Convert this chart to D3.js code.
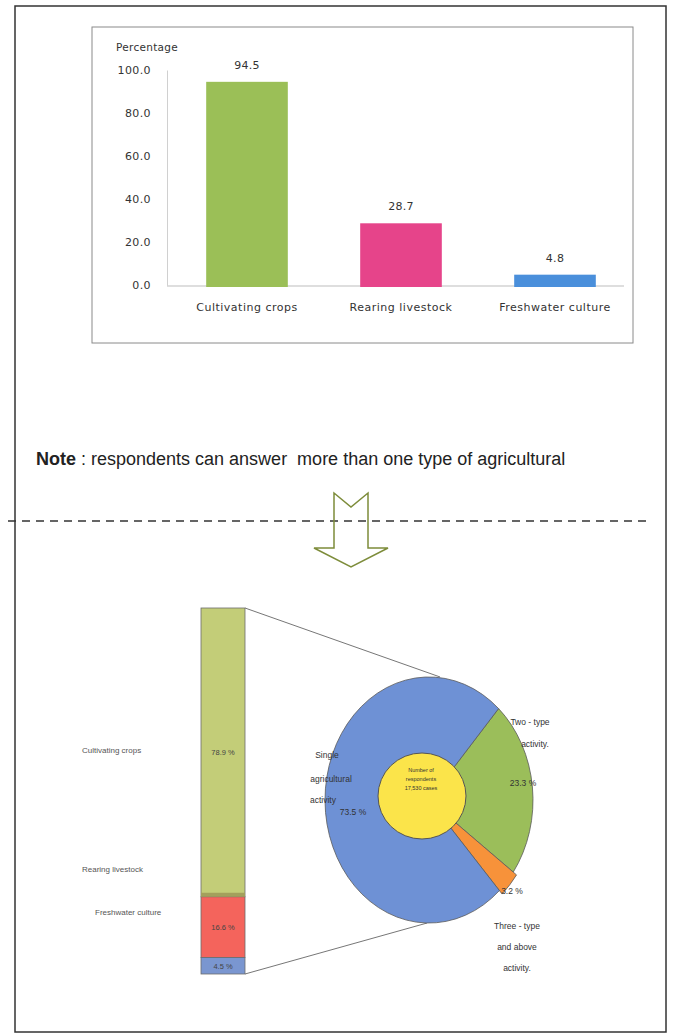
<!DOCTYPE html>
<html>
<head>
<meta charset="utf-8">
<script src="https://cdn.jsdelivr.net/npm/d3@7"></script>
<style>
  body { margin: 0; background: #fff; }
  svg { display: block; }
</style>
</head>
<body>
<div id="chart"></div>
<script>
// top bar chart
const barCategories = ["Cultivating crops", "Rearing livestock", "Freshwater culture"];
const barValues = [94.5, 28.7, 4.8];
const barColors = ["#9bbf57", "#e6448a", "#4a8fdb"];
const yTicks = [0, 20, 40, 60, 80, 100];

// stacked bar (single agricultural activity)
const stackCategories = ["Cultivating crops", "Rearing livestock", "Freshwater culture"];
const stackValues = [78.9, 16.6, 4.5];
const stackColors = ["#c3cd78", "#f4645c", "#7a96d0"];

// pie (number of activity types)
const pieCategories = ["Two - type activity.", "Three - type and above activity.", "Single agricultural activity"];
const pieValues = [23.3, 3.2, 73.5];
const pieColors = ["#9bbe5a", "#f7923a", "#6e91d5"];
const centerLines = ["Number of", "respondents", "17,530 cases"];

const width = 675, height = 1036;
const fmt = d3.format(".1f");

const svg = d3.select("#chart").append("svg")
  .attr("width", width)
  .attr("height", height)
  .style("background", "#fff");

// outer frame
svg.append("rect")
  .attr("x", 15).attr("y", 6)
  .attr("width", 651).attr("height", 1026)
  .attr("fill", "none")
  .attr("stroke", "#333")
  .attr("stroke-width", 1.5);

// ---------- top bar chart ----------
svg.append("rect")
  .attr("x", 92).attr("y", 27)
  .attr("width", 541).attr("height", 316)
  .attr("fill", "#fff")
  .attr("stroke", "#8a8a8a");

const yScale = d3.scaleLinear().domain([0, 100]).range([285, 70]);
const xScale = d3.scaleBand()
  .domain(barCategories)
  .range([170, 632])
  .paddingInner(0.47)
  .paddingOuter(0.235);

const axisFont = "'DejaVu Sans', Verdana, sans-serif";

svg.append("g")
  .attr("transform", "translate(167,0)")
  .call(d3.axisLeft(yScale).tickValues(yTicks).tickSize(0).tickPadding(16).tickFormat(fmt))
  .call(g => g.select(".domain").attr("stroke", "#d0d0d0"))
  .call(g => g.selectAll("text")
    .attr("fill", "#333")
    .style("font-family", axisFont)
    .style("font-size", "11px")
    .style("letter-spacing", "0.4px"));

svg.append("line")
  .attr("x1", 167).attr("x2", xScale.range()[1] - 8)
  .attr("y1", yScale(0) + 1).attr("y2", yScale(0) + 1)
  .attr("stroke", "#bdbdbd");

svg.append("text")
  .attr("x", 116).attr("y", 51)
  .attr("fill", "#333")
  .style("font-family", axisFont)
  .style("font-size", "10.5px")
  .style("letter-spacing", "0.3px")
  .text("Percentage");

const bars = barCategories.map((c, i) => ({ cat: c, value: barValues[i], color: barColors[i] }));

svg.selectAll(".bar")
  .data(bars)
  .join("rect")
  .attr("class", "bar")
  .attr("x", d => xScale(d.cat))
  .attr("y", d => yScale(d.value))
  .attr("width", xScale.bandwidth())
  .attr("height", d => yScale(0) - yScale(d.value) + 2)
  .attr("fill", d => d.color);

svg.selectAll(".bar-label")
  .data(bars)
  .join("text")
  .attr("class", "bar-label")
  .attr("x", d => xScale(d.cat) + xScale.bandwidth() / 2)
  .attr("y", d => yScale(d.value) - 13)
  .attr("text-anchor", "middle")
  .attr("fill", "#333")
  .style("font-family", axisFont)
  .style("font-size", "11px")
  .style("letter-spacing", "0.3px")
  .text(d => fmt(d.value));

svg.selectAll(".cat-label")
  .data(bars)
  .join("text")
  .attr("class", "cat-label")
  .attr("x", d => xScale(d.cat) + xScale.bandwidth() / 2)
  .attr("y", 311)
  .attr("text-anchor", "middle")
  .attr("fill", "#333")
  .style("font-family", axisFont)
  .style("font-size", "11px")
  .style("letter-spacing", "0.5px")
  .text(d => d.cat);

// ---------- note, divider, arrow ----------
const note = svg.append("text")
  .attr("x", 36).attr("y", 465)
  .attr("fill", "#222")
  .style("white-space", "pre")
  .style("font-family", "'Liberation Sans', Arial, sans-serif")
  .style("font-size", "18px");
note.append("tspan").style("font-weight", "700").text("Note");
note.append("tspan").text(" : respondents can answer  more than one type of agricultural");

svg.append("line")
  .attr("x1", 8).attr("x2", 648)
  .attr("y1", 521).attr("y2", 521)
  .attr("stroke", "#333")
  .attr("stroke-width", 1.6)
  .attr("stroke-dasharray", "8,6");

const arrowPts = [
  [334, 493], [351, 507], [368, 493], [368, 548], [388, 548],
  [351, 567], [314, 548], [334, 548]
];
svg.append("path")
  .attr("d", d3.line()(arrowPts) + "Z")
  .attr("fill", "none")
  .attr("stroke", "#7d8c3a")
  .attr("stroke-width", 1.5);

// ---------- stacked bar ----------
const smallFont = "'Liberation Sans', Arial, sans-serif";
const sScale = d3.scaleLinear().domain([0, 100]).range([608, 974]);
const stackX = 201, stackW = 44;
let acc = 0;
const stack = stackCategories.map((c, i) => {
  const d = { cat: c, value: stackValues[i], color: stackColors[i], y0: acc, y1: acc + stackValues[i] };
  acc += stackValues[i];
  return d;
});

svg.selectAll(".seg")
  .data(stack)
  .join("rect")
  .attr("class", "seg")
  .attr("x", stackX)
  .attr("y", d => sScale(d.y0))
  .attr("width", stackW)
  .attr("height", d => sScale(d.y1) - sScale(d.y0))
  .attr("fill", d => d.color)
  .attr("stroke", "#6b6b6b")
  .attr("stroke-width", 0.8);

// thin olive band at the bottom of the first segment
svg.append("rect")
  .attr("x", stackX).attr("y", sScale(stack[0].y1) - 4)
  .attr("width", stackW).attr("height", 4)
  .attr("fill", "#a3a05c");

svg.selectAll(".seg-label")
  .data(stack)
  .join("text")
  .attr("class", "seg-label")
  .attr("x", stackX + stackW / 2)
  .attr("y", d => (sScale(d.y0) + sScale(d.y1)) / 2 + 3)
  .attr("text-anchor", "middle")
  .attr("fill", "#444")
  .style("font-family", smallFont)
  .style("font-size", "7.5px")
  .text(d => fmt(d.value) + " %");

// side labels sit a bit above their segments, as in the source
const leftLabelDy = [1, -55, -51];
svg.selectAll(".seg-name")
  .data(stack)
  .join("text")
  .attr("class", "seg-name")
  .attr("x", (d, i) => i === 2 ? 95 : 82)
  .attr("y", (d, i) => (sScale(d.y0) + sScale(d.y1)) / 2 + leftLabelDy[i])
  .attr("fill", "#555")
  .style("font-family", smallFont)
  .style("font-size", "8px")
  .text(d => d.cat);

// ---------- pie ----------
const cx = 429, cy = 800, rOuter = 104, yStretch = 1.183;

// connector lines
svg.append("line")
  .attr("x1", stackX + stackW).attr("y1", sScale(0))
  .attr("x2", 440).attr("y2", cy - rOuter * yStretch)
  .attr("stroke", "#666").attr("stroke-width", 0.9);
svg.append("line")
  .attr("x1", stackX + stackW).attr("y1", sScale(100))
  .attr("x2", 427).attr("y2", cy + rOuter * yStretch)
  .attr("stroke", "#666").attr("stroke-width", 0.9);

const start = 42 * Math.PI / 180;
const pie = d3.pie().sort(null).value(d => d.value)
  .startAngle(start).endAngle(start + 2 * Math.PI);
const slices = pie(pieCategories.map((c, i) => ({ cat: c, value: pieValues[i], color: pieColors[i] })));
const arc = d3.arc().innerRadius(0).outerRadius(d => d.index === 1 ? rOuter + 4 : rOuter);

svg.append("g")
  .attr("transform", `translate(${cx},${cy}) scale(1,${yStretch})`)
  .selectAll("path")
  .data(slices)
  .join("path")
  .attr("d", arc)
  .attr("fill", d => d.data.color)
  .attr("stroke", "#5a5a5a")
  .attr("stroke-width", 0.8)
  .attr("vector-effect", "non-scaling-stroke");

svg.append("ellipse")
  .attr("cx", 422).attr("cy", 796)
  .attr("rx", 44).attr("ry", 43)
  .attr("fill", "#fbe44a")
  .attr("stroke", "#555")
  .attr("stroke-width", 1);

svg.selectAll(".center-line")
  .data(centerLines)
  .join("text")
  .attr("class", "center-line")
  .attr("x", 421)
  .attr("y", (d, i) => 772 + i * 9)
  .attr("text-anchor", "middle")
  .attr("fill", "#333")
  .style("font-family", smallFont)
  .style("font-size", "5.5px")
  .text(d => d);

// pie labels
const pieText = [
  { lines: ["Two - type", "activity."], xs: [530, 535], ys: [725, 747] },
  { lines: ["Three - type", "and above", "activity."], xs: [517, 517, 517], ys: [929, 950, 971] },
  { lines: ["Single", "agricultural", "activity"], xs: [327, 331, 323], ys: [758, 782, 803] }
];
const pctPos = [[523, 786], [512, 894], [353, 815]];

slices.forEach((s, i) => {
  pieText[i].lines.forEach((t, j) => {
    svg.append("text")
      .attr("x", pieText[i].xs[j]).attr("y", pieText[i].ys[j])
      .attr("text-anchor", "middle")
      .attr("fill", "#333")
      .style("font-family", smallFont)
      .style("font-size", "8.5px")
      .text(t);
  });
  svg.append("text")
    .attr("x", pctPos[i][0]).attr("y", pctPos[i][1])
    .attr("text-anchor", "middle")
    .attr("fill", "#333")
    .style("font-family", smallFont)
    .style("font-size", "8.5px")
    .text(fmt(s.data.value) + " %");
});
</script>
</body>
</html>
